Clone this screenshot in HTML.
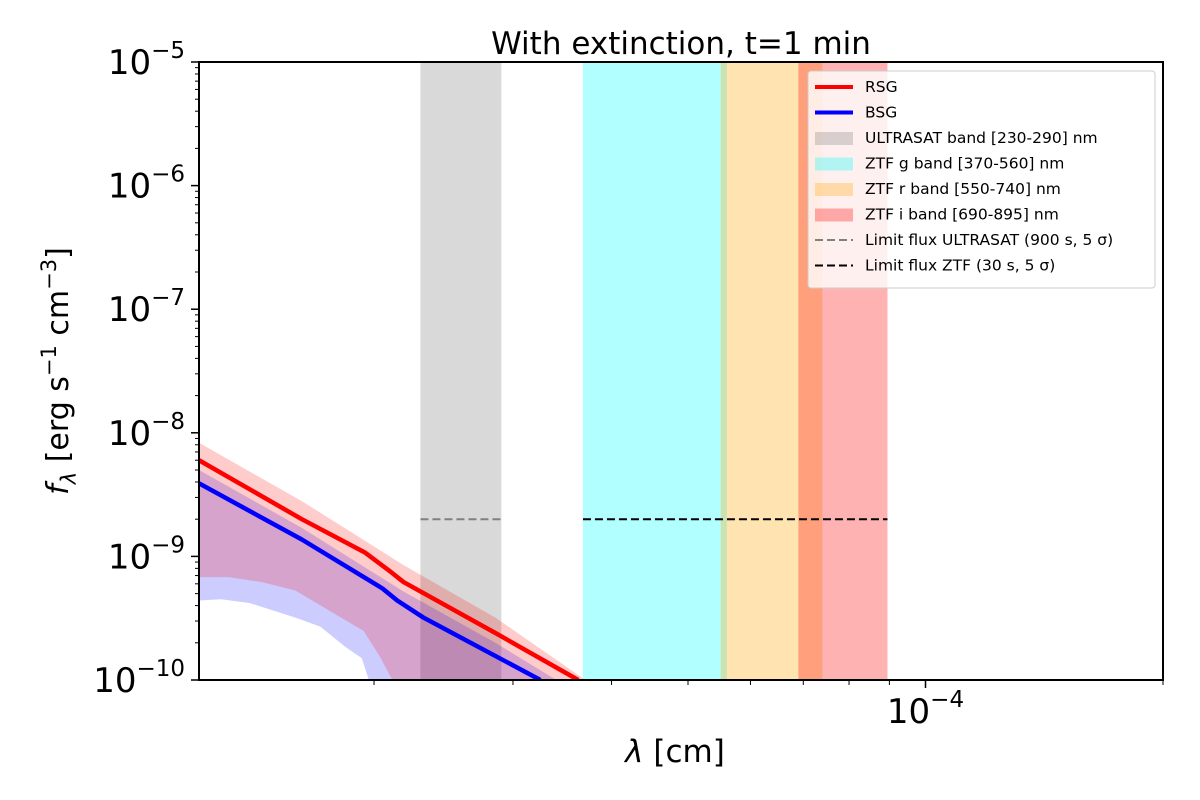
<!DOCTYPE html>
<html><head><meta charset="utf-8"><style>
body{margin:0;background:#fff;}
svg{display:block;font-family:"DejaVu Sans","Liberation Sans",sans-serif;}
</style></head><body>
<svg id="chart" width="1200" height="800" viewBox="0 0 1200 800">
<defs><clipPath id="pc"><rect x="199" y="62" width="964" height="618"/></clipPath></defs>
<g id="plot" clip-path="url(#pc)"></g>
<g id="axes"></g>
<text x="681" y="54" font-size="31" text-anchor="middle">With extinction, t=1 min</text>
<text x="675" y="762" font-size="31" text-anchor="middle"><tspan font-style="italic">λ</tspan> [cm]</text>
<text transform="translate(68,371) rotate(-90)" font-size="30" text-anchor="middle"><tspan font-style="italic">f</tspan><tspan font-style="italic" font-size="21" dy="8">λ</tspan><tspan dy="-8"> [erg s</tspan><tspan font-size="21" dy="-12">−1</tspan><tspan dy="12"> cm</tspan><tspan font-size="21" dy="-12">−3</tspan><tspan dy="12">]</tspan></text>
<g id="legend"></g>
</svg>
<script>
const bandNames=["ULTRASAT band [230-290] nm","ZTF g band [370-560] nm","ZTF r band [550-740] nm","ZTF i band [690-895] nm"];
const bandLo=[2.29e-5,3.68e-5,5.5e-5,6.9e-5];
const bandHi=[2.9e-5,5.6e-5,7.4e-5,8.95e-5];
const bandColors=["rgba(128,128,128,0.3)","rgba(0,255,255,0.3)","rgba(255,165,0,0.3)","rgba(255,0,0,0.3)"];
const rsgLam=[1.2e-5,1.62e-5,1.95e-5,2.1e-5,2.18e-5,2.85e-5,3.63e-5];
const rsgFlux=[6.0e-9,2.0e-9,1.07e-9,7.5e-10,6.2e-10,2.4e-10,1.0e-10];
const bsgLam=[1.2e-5,1.62e-5,2.05e-5,2.14e-5,2.31e-5,3.25e-5];
const bsgFlux=[3.9e-9,1.37e-9,5.5e-10,4.4e-10,3.2e-10,1.0e-10];
const rsgUpLam=[1.2e-5,1.62e-5,2.18e-5,2.85e-5,3.75e-5];
const rsgUpFlux=[8.3e-9,2.8e-9,8.5e-10,3.2e-10,9.5e-11];
const rsgLoLam=[1.2e-5,1.31e-5,1.44e-5,1.59e-5,1.76e-5,1.94e-5,2.04e-5,2.11e-5,2.2e-5];
const rsgLoFlux=[6.8e-10,6.8e-10,6.2e-10,5.3e-10,3.6e-10,2.5e-10,1.5e-10,1.0e-10,6e-11];
const bsgUpLam=[1.2e-5,1.62e-5,2.18e-5,2.85e-5,3.45e-5];
const bsgUpFlux=[5.0e-9,1.7e-9,5.2e-10,2.0e-10,9.5e-11];
const bsgLoLam=[1.2e-5,1.28e-5,1.39e-5,1.59e-5,1.71e-5,1.84e-5,1.93e-5,1.97e-5,2.05e-5];
const bsgLoFlux=[4.4e-10,4.5e-10,4.2e-10,3.2e-10,2.7e-10,1.85e-10,1.5e-10,1.0e-10,6e-11];
const limitFlux=[2e-9,2e-9];
const limitLo=[2.29e-5,3.68e-5];
const limitHi=[2.9e-5,8.95e-5];
const yTickExp=[-5,-6,-7,-8,-9,-10];
const NS="http://www.w3.org/2000/svg";
const X0=199,X1=1163,Y0=62,Y1=680;
const lx0=Math.log10(1.2e-5),lx1=Math.log10(2e-4);
function xs(v){return X0+(Math.log10(v)-lx0)/(lx1-lx0)*(X1-X0);}
function ys(v){return Y1-(Math.log10(v)+10)/5*(Y1-Y0);}
function mk(tag,attrs,parent){const e=document.createElementNS(NS,tag);for(const k in attrs)e.setAttribute(k,attrs[k]);parent.appendChild(e);return e;}
const plot=document.getElementById('plot'),axes=document.getElementById('axes'),leg=document.getElementById('legend');
bandLo.forEach((lo,i)=>{const r=mk('rect',{x:xs(lo),y:Y0,width:xs(bandHi[i])-xs(lo),height:Y1-Y0,fill:bandColors[i]},plot);

});
function area(la,fa,lb,fb,fill,name){let d='';la.forEach((l,i)=>{d+=(i?'L':'M')+xs(l)+','+ys(fa[i]);});
for(let i=lb.length-1;i>=0;i--)d+='L'+xs(lb[i])+','+ys(fb[i]);
const p=mk('path',{d:d+'Z',fill:fill,'stroke-linejoin':'round'},plot);

}
area(bsgUpLam,bsgUpFlux,bsgLoLam,bsgLoFlux,'rgba(0,0,255,0.2)','bsg-band');
area(rsgUpLam,rsgUpFlux,rsgLoLam,rsgLoFlux,'rgba(255,0,0,0.2)','rsg-band');
function line(la,fa,col,name){const p=mk('polyline',{points:la.map((l,i)=>xs(l)+','+ys(fa[i])).join(' '),fill:'none',stroke:col,'stroke-width':4.5,'stroke-linejoin':'round'},plot);

}
line(bsgLam,bsgFlux,'#0000ff','bsg-line');
line(rsgLam,rsgFlux,'#ff0000','rsg-line');
const limCol=['#808080','#000'];
limitFlux.forEach((f,i)=>{const l=mk('line',{x1:xs(limitLo[i]),x2:xs(limitHi[i]),y1:ys(f),y2:ys(f),stroke:limCol[i],'stroke-width':2,'stroke-dasharray':'8,4'},plot);

});
mk('rect',{x:X0,y:Y0,width:X1-X0,height:Y1-Y0,fill:'none',stroke:'#000','stroke-width':2},axes);
yTickExp.forEach(e=>{const y=ys(Math.pow(10,e));mk('line',{x1:X0-8,x2:X0,y1:y,y2:y,stroke:'#000','stroke-width':1.5},axes);
const t=mk('text',{x:X0-14,y:y+12,'font-size':34,'text-anchor':'end'},axes);


t.innerHTML='10<tspan font-size="23" dy="-16">−'+(-e)+'</tspan>';
if(e>-10)for(let k=2;k<10;k++){const yy=ys(k*Math.pow(10,e-1));mk('line',{x1:X0-4,x2:X0,y1:yy,y2:yy,stroke:'#000','stroke-width':1},axes);}});
[2e-5,3e-5,4e-5,5e-5,6e-5,7e-5,8e-5,9e-5,2e-4].forEach(v=>{const x=xs(v);mk('line',{x1:x,x2:x,y1:Y1,y2:Y1+5,stroke:'#000','stroke-width':1},axes);});
const xm=xs(1e-4);mk('line',{x1:xm,x2:xm,y1:Y1,y2:Y1+8,stroke:'#000','stroke-width':1.5},axes);
const xt=mk('text',{x:xm,y:Y1+43,'font-size':34,'text-anchor':'middle'},axes);


xt.innerHTML='10<tspan font-size="23" dy="-16">−4</tspan>';
mk('rect',{x:808,y:71,width:347,height:217,fill:'rgba(255,255,255,0.8)',stroke:'#ccc','stroke-width':1,rx:3},leg);
const legLabels=['RSG','BSG'].concat(bandNames,['Limit flux ULTRASAT (900 s, 5 σ)','Limit flux ZTF (30 s, 5 σ)']);
legLabels.forEach((lab,i)=>{const y=87+i*25.5;
if(i<2)mk('line',{x1:815,x2:853,y1:y,y2:y,stroke:i?'#0000ff':'#ff0000','stroke-width':4},leg);
else if(i<6)mk('rect',{x:815,y:y-6,width:38,height:13,fill:bandColors[i-2]},leg);
else mk('line',{x1:815,x2:853,y1:y,y2:y,stroke:limCol[i-6],'stroke-width':2,'stroke-dasharray':'8,4'},leg);
const t=mk('text',{x:865,y:y+5,'font-size':15.5},leg);t.textContent=lab;

});
</script>
</body></html>
